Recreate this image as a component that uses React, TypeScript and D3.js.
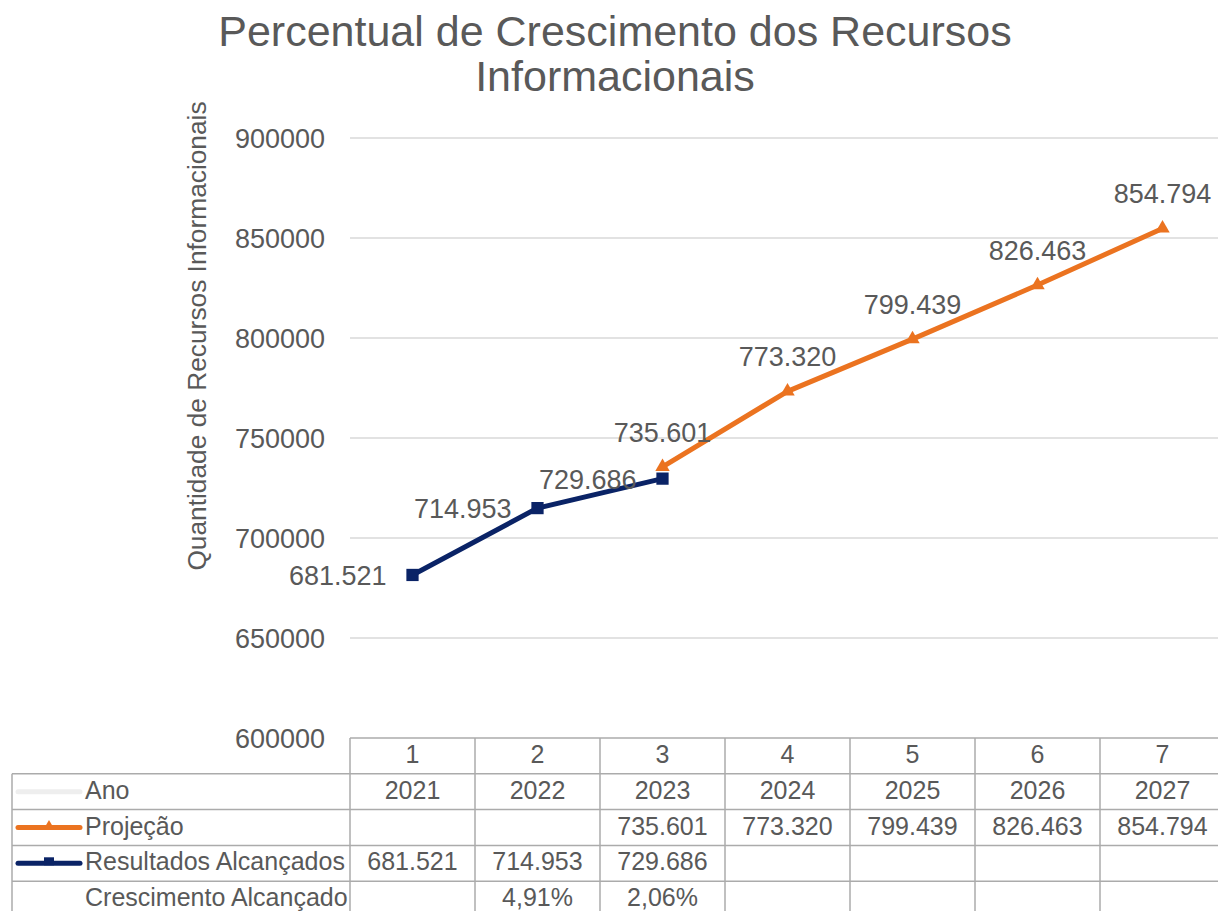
import React from "react";
import * as d3 from "d3";

const indices = [1, 2, 3, 4, 5, 6, 7];
const anos = [2021, 2022, 2023, 2024, 2025, 2026, 2027];
const projecao: (number | null)[] = [null, null, 735601, 773320, 799439, 826463, 854794];
const resultados: (number | null)[] = [681521, 714953, 729686, null, null, null, null];
const crescimento: (string | null)[] = [null, "4,91%", "2,06%", null, null, null, null];
const yTicks = [600000, 650000, 700000, 750000, 800000, 850000, 900000];

const titleLines = ["Percentual de Crescimento dos Recursos", "Informacionais"];
const yAxisTitle = "Quantidade de Recursos Informacionais";
const rowLabels = ["Ano", "Projeção", "Resultados Alcançados", "Crescimento Alcançado"];

const W = 1218;
const H = 911;
const FONT = "'Liberation Sans', Arial, sans-serif";
const TEXT = "#595959";
const ORANGE = "#EB7320";
const NAVY = "#0A2366";
const GRID = "#D9D9D9";
const BORDER = "#ABABAB";

const locale = d3.formatLocale({ decimal: ",", thousands: ".", grouping: [3], currency: ["R$", ""] });
const fmt = locale.format(",d");

export default function App() {
  const plotLeft = 350;
  const colW = 125;
  const x = d3
    .scaleBand<number>()
    .domain(indices)
    .range([plotLeft, plotLeft + colW * indices.length])
    .paddingInner(0)
    .paddingOuter(0);
  const y = d3.scaleLinear().domain([600000, 900000]).range([738, 138]);
  const cx = (i: number) => (x(i) as number) + x.bandwidth() / 2;

  const line = d3
    .line<[number, number | null]>()
    .defined((d) => d[1] != null)
    .x((d) => cx(d[0]))
    .y((d) => y(d[1] as number));

  const projPts = indices.map((k, i) => [k, projecao[i]] as [number, number | null]);
  const resPts = indices.map((k, i) => [k, resultados[i]] as [number, number | null]);

  const rowTop = 738;
  const rowH = 35.8;
  const tableLeft = 12;
  const tableRight = plotLeft + colW * indices.length;
  const nRows = 5;

  const tri = d3.symbol().type(d3.symbolTriangle).size(90)();
  const sq = d3.symbol().type(d3.symbolSquare).size(150)();

  const rowValues: (string | null)[][] = [
    anos.map((a) => String(a)),
    projecao.map((v) => (v == null ? null : fmt(v))),
    resultados.map((v) => (v == null ? null : fmt(v))),
    crescimento,
  ];

  return (
    <svg
      width={W}
      height={H}
      style={{ position: "absolute", left: 0, top: 0, background: "#fff" }}
      fontFamily={FONT}
    >
      <rect x={0} y={0} width={W} height={H} fill="#fff" />
      {/* title */}
      <text x={615} y={46} textAnchor="middle" fontSize={43} fill={TEXT}>
        {titleLines[0]}
      </text>
      <text x={615} y={91} textAnchor="middle" fontSize={43} fill={TEXT}>
        {titleLines[1]}
      </text>

      {/* y axis title */}
      <text
        transform={`translate(206,336) rotate(-90)`}
        textAnchor="middle"
        fontSize={26.3}
        fill={TEXT}
      >
        {yAxisTitle}
      </text>

      {/* gridlines */}
      {yTicks
        .filter((t) => t > 600000)
        .map((t) => (
          <line key={t} x1={plotLeft} x2={W} y1={y(t)} y2={y(t)} stroke={GRID} strokeWidth={1.5} />
        ))}
      {/* tick labels */}
      {yTicks.map((t) => (
        <text key={t} x={325} y={y(t) + 9.5} textAnchor="end" fontSize={27} fill={TEXT}>
          {d3.format("d")(t)}
        </text>
      ))}

      {/* series */}
      <path d={line(projPts) || ""} fill="none" stroke={ORANGE} strokeWidth={5} strokeLinejoin="round" />
      {projPts
        .filter((d) => d[1] != null)
        .map((d) => (
          <path key={"pt" + d[0]} d={tri || ""} transform={`translate(${cx(d[0])},${y(d[1] as number)})`} fill={ORANGE} />
        ))}
      <path d={line(resPts) || ""} fill="none" stroke={NAVY} strokeWidth={5} strokeLinejoin="round" />
      {resPts
        .filter((d) => d[1] != null)
        .map((d) => (
          <path key={"rs" + d[0]} d={sq || ""} transform={`translate(${cx(d[0])},${y(d[1] as number)})`} fill={NAVY} />
        ))}

      {/* data labels */}
      {projPts
        .filter((d) => d[1] != null)
        .map((d) => (
          <text
            key={"pl" + d[0]}
            x={cx(d[0])}
            y={y(d[1] as number) - 25}
            textAnchor="middle"
            fontSize={27}
            fill={TEXT}
          >
            {fmt(d[1] as number)}
          </text>
        ))}
      {resPts
        .filter((d) => d[1] != null)
        .map((d) => (
          <text
            key={"rl" + d[0]}
            x={cx(d[0]) - 26}
            y={y(d[1] as number) + 10}
            textAnchor="end"
            fontSize={27}
            fill={TEXT}
          >
            {fmt(d[1] as number)}
          </text>
        ))}

      {/* data table */}
      <g stroke={BORDER} strokeWidth={1.5} fill="none">
        <line x1={plotLeft} x2={tableRight} y1={rowTop} y2={rowTop} />
        {d3.range(1, nRows + 1).map((r) => (
          <line key={"h" + r} x1={tableLeft} x2={tableRight} y1={rowTop + r * rowH} y2={rowTop + r * rowH} />
        ))}
        <line x1={tableLeft} x2={tableLeft} y1={rowTop + rowH} y2={H + 10} />
        {indices.map((k) => (
          <line key={"v" + k} x1={x(k) as number} x2={x(k) as number} y1={rowTop} y2={H + 10} />
        ))}
        <line x1={tableRight} x2={tableRight} y1={rowTop} y2={H + 10} />
      </g>
      {/* header row */}
      {indices.map((k) => (
        <text key={"hd" + k} x={cx(k)} y={rowTop + 25} textAnchor="middle" fontSize={25} fill={TEXT}>
          {k}
        </text>
      ))}
      {/* row labels and keys */}
      {rowLabels.map((lab, r) => {
        const top = rowTop + (r + 1) * rowH;
        const mid = top + rowH / 2;
        return (
          <g key={"rl" + r}>
            {r === 0 && <line x1={18} x2={80} y1={mid} y2={mid} stroke="#EEEEEE" strokeWidth={5} strokeLinecap="round" />}
            {r === 1 && (
              <g>
                <line x1={18} x2={80} y1={mid} y2={mid} stroke={ORANGE} strokeWidth={5} strokeLinecap="round" />
                <path d={d3.symbol().type(d3.symbolTriangle).size(40)() || ""} transform={`translate(49,${mid - 2})`} fill={ORANGE} />
              </g>
            )}
            {r === 2 && (
              <g>
                <line x1={18} x2={80} y1={mid} y2={mid} stroke={NAVY} strokeWidth={5} strokeLinecap="round" />
                <rect x={44} y={mid - 6} width={10} height={8} fill={NAVY} />
              </g>
            )}
            <text x={85} y={top + 25} fontSize={25} fill={TEXT}>
              {lab}
            </text>
            {rowValues[r].map((v, i) =>
              v == null ? null : (
                <text key={i} x={cx(indices[i])} y={top + 25} textAnchor="middle" fontSize={25} fill={TEXT}>
                  {v}
                </text>
              )
            )}
          </g>
        );
      })}
    </svg>
  );
}
